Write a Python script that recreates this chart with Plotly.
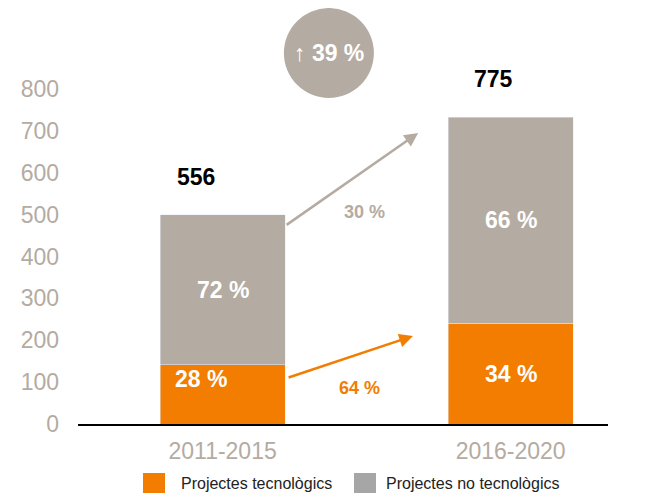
import plotly.graph_objects as go

categories = ["2011-2015", "2016-2020"]
tech_values = [141, 241]
nontech_values = [359, 492]
total_labels = ["556", "775"]
tech_pct_labels = ["28 %", "34 %"]
nontech_pct_labels = ["72 %", "66 %"]
growth_tech_label = "64 %"
growth_nontech_label = "30 %"
growth_total_label = "39 %"
y_ticks = [0, 100, 200, 300, 400, 500, 600, 700, 800]
legend_names = ["Projectes tecnològics", "Projectes no tecnològics"]

ORANGE = "#f27d00"
BEIGE = "#b4aba2"
LEG_GRAY = "#a6a6a6"
FONT = "Liberation Sans, Arial, sans-serif"

x = [0, 1]
fig = go.Figure()
fig.add_bar(x=x, y=tech_values, marker_color=ORANGE, width=0.434,
            name=legend_names[0], showlegend=False)
fig.add_bar(x=x, y=nontech_values, marker_color=BEIGE, width=0.434,
            name=legend_names[1], showlegend=False)

ann = []
shapes = []
for i in range(2):
    total = tech_values[i] + nontech_values[i]
    ann.append(dict(x=x[i], y=total, text=f"<b>{total_labels[i]}</b>", showarrow=False,
                    xshift=[-27, -17][i], yshift=38, font=dict(size=23, color="black")))
    ann.append(dict(x=x[i], y=tech_values[i] + nontech_values[i] / 2,
                    text=f"<b>{nontech_pct_labels[i]}</b>", showarrow=False,
                    font=dict(size=23, color="white")))
    ann.append(dict(x=x[i], y=tech_values[i] / 2, text=f"<b>{tech_pct_labels[i]}</b>",
                    showarrow=False, xshift=[-22, 0][i], yshift=[15, 0][i],
                    font=dict(size=23, color="white")))

# growth arrows
ann.append(dict(x=0.679, y=695, ax=0.217, ay=473, axref="x", ayref="y", text="",
                showarrow=True, arrowhead=2, arrowsize=1.1, arrowwidth=2.5,
                arrowcolor=BEIGE, standoff=0, startstandoff=0))
ann.append(dict(x=0.661, y=210, ax=0.224, ay=110, axref="x", ayref="y", text="",
                showarrow=True, arrowhead=2, arrowsize=1.1, arrowwidth=2.5,
                arrowcolor=ORANGE, standoff=0, startstandoff=0))
ann.append(dict(x=0.494, y=506, text=f"<b>{growth_nontech_label}</b>", showarrow=False,
                font=dict(size=18, color=BEIGE)))
ann.append(dict(x=0.475, y=86, text=f"<b>{growth_tech_label}</b>", showarrow=False,
                font=dict(size=18, color=ORANGE)))

# circle with total growth
shapes.append(dict(type="circle", xref="x", yref="y", xsizemode="pixel", ysizemode="pixel",
                   xanchor=0.369, yanchor=886, x0=-45, x1=45, y0=-45, y1=45,
                   fillcolor=BEIGE, line=dict(width=0), layer="below"))
ann.append(dict(x=0.369, y=886, text=f"↑ <b>{growth_total_label}</b>", showarrow=False,
                font=dict(size=23, color="white")))

# legend (manual); page pixel -> paper coords (page has 8px body offset)
def px_x(p):
    return (p - 78) / 530

def px_y(p):
    return (424 - p) / 416

for (x0, col, name, tx) in [(143, ORANGE, legend_names[0], 179), (354, LEG_GRAY, legend_names[1], 384)]:
    shapes.append(dict(type="rect", xref="paper", yref="paper", x0=px_x(x0), x1=px_x(x0 + 22),
                       y0=px_y(493), y1=px_y(473), fillcolor=col, line=dict(width=0)))
    ann.append(dict(x=px_x(tx), y=px_y(483), xref="paper", yref="paper", text=name,
                    showarrow=False, xanchor="left", yanchor="middle",
                    font=dict(size=16, color="#222222")))

fig.update_layout(
    barmode="stack",
    width=638, height=486,
    margin=dict(l=70, r=38, t=0, b=70),
    plot_bgcolor="white", paper_bgcolor="white",
    font=dict(family=FONT),
    annotations=ann,
    shapes=shapes,
    showlegend=False,
    xaxis=dict(range=[-0.502, 1.338], tickvals=x, ticktext=categories,
               showline=True, linecolor="black", linewidth=2, showgrid=False,
               zeroline=False, ticks="", ticklabelstandoff=5,
               tickfont=dict(size=23, color=BEIGE, family=FONT)),
    yaxis=dict(range=[0, 416 / 335 * 800], tickvals=y_ticks, showgrid=False, zeroline=False,
               showline=False, ticks="", ticklabelstandoff=18,
               tickfont=dict(size=23, color=BEIGE, family=FONT)),
)

fig.write_html("out.html")
